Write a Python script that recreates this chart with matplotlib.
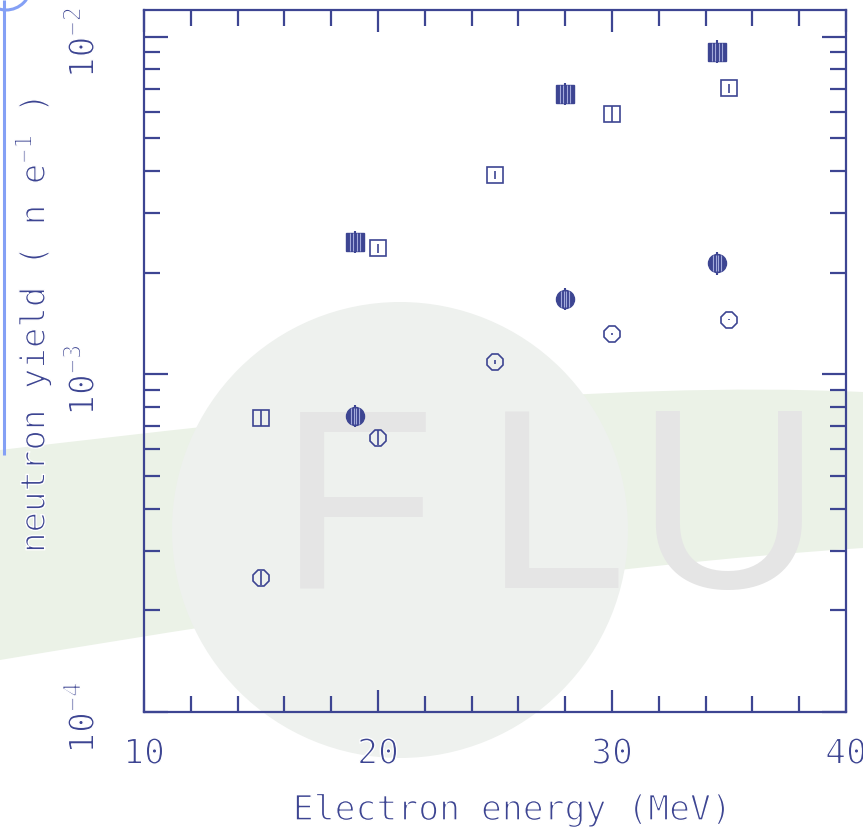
import numpy as np
import matplotlib
matplotlib.use("Agg")
import matplotlib.pyplot as plt
import matplotlib.patheffects as pe
import matplotlib.transforms as mtransforms
from matplotlib.path import Path
from matplotlib.patches import Circle, PathPatch, Arc
from matplotlib.ticker import FixedLocator, NullFormatter, FuncFormatter

# ---------------- data ----------------
x_open = [15, 20, 25, 30, 35]
sq_open = [7.43e-4, 2.36e-3, 3.89e-3, 5.89e-3, 7.03e-3]
sq_open_err = [0.055, 0.03, 0.025, 0.055, 0.03]
circ_open = [2.49e-4, 6.49e-4, 1.087e-3, 1.315e-3, 1.45e-3]
circ_open_err = [0.05, 0.05, 0.015, 0.004, 0.004]

x_fill = [19, 28, 34.5]
sq_fill = [2.464e-3, 6.76e-3, 9.03e-3]
sq_fill_err = [0.08, 0.08, 0.08]
circ_fill = [7.52e-4, 1.67e-3, 2.13e-3]
circ_fill_err = [0.08, 0.08, 0.08]

x_ticks = [10, 20, 30, 40]
y_ticks = [1e-4, 1e-3, 1e-2]

NAVY = "#3d4592"
HATCH = "#a3aadb"
W, H = 863, 827

plt.rcParams['font.family'] = ['DejaVu Sans Mono', 'DejaVu Sans']
plt.rcParams['mathtext.default'] = 'regular'

THIN = [pe.Stroke(linewidth=1.0, foreground='white')]

fig = plt.figure(figsize=(W / 100, H / 100), dpi=100)
fig.patch.set_facecolor('white')

def fx(px):
    return px / W

def fy(py):
    return 1 - py / H

# ---------------- watermark (figure background) ----------------
bg = fig.add_axes([0, 0, 1, 1], zorder=0)
bg.set_xlim(0, W)
bg.set_ylim(H, 0)
bg.axis('off')
# green swoosh band
verts = [(0, 450), (300, 415), (600, 380), (863, 392),
         (863, 548), (600, 565), (300, 610), (0, 660), (0, 450)]
codes = [Path.MOVETO, Path.CURVE4, Path.CURVE4, Path.CURVE4,
         Path.LINETO, Path.CURVE4, Path.CURVE4, Path.CURVE4, Path.CLOSEPOLY]
bg.add_patch(PathPatch(Path(verts, codes), facecolor="#ebf2e7", edgecolor='none'))
# circle
bg.add_patch(Circle((400, 530), 228, facecolor="#eef1ee", edgecolor='none'))
# FLU letters
for ch, cx in zip("FLU", [357, 555, 728]):
    bg.text(cx, 588, ch, fontsize=185, color="#e5e5e5", ha='center', va='baseline',
            family='Liberation Sans')
# blue decoration top-left
bg.plot([4, 4], [0, 455], color="#84a0f5", lw=2.2, solid_capstyle='butt')
bg.add_patch(Arc((6, -15), 50, 50, theta1=0, theta2=180, color="#84a0f5", lw=2.2))

# ---------------- main axes ----------------
ax = fig.add_axes([fx(144), fy(711.7), (846 - 144) / W, (711.7 - 10) / H], zorder=2)
ax.patch.set_alpha(0)
ax.set_yscale('log')
ax.set_xlim(10, 40)
ax.set_ylim(1e-4, 1.2e-2)

for s in ax.spines.values():
    s.set_color(NAVY)
    s.set_linewidth(1.6)

ax.xaxis.set_major_locator(FixedLocator(x_ticks))
ax.xaxis.set_minor_locator(FixedLocator(np.arange(10, 41, 2)))
ax.yaxis.set_major_locator(FixedLocator(y_ticks))
minor_y = [m * 10.0 ** e for e in (-4, -3, -2) for m in range(2, 10)]
ax.yaxis.set_minor_locator(FixedLocator(minor_y))
ax.yaxis.set_minor_formatter(NullFormatter())
ax.yaxis.set_major_formatter(FuncFormatter(
    lambda v, p: r'$10^{%d}$' % int(round(np.log10(v)))))

ax.tick_params(which='both', direction='in', top=True, right=True,
               color=NAVY, labelcolor=NAVY, width=1.6)
ax.tick_params(axis='x', which='major', length=16, labelsize=25, pad=18)
ax.tick_params(axis='x', which='minor', length=11.5)
ax.tick_params(axis='y', which='major', length=17, labelsize=25, pad=31)
ax.tick_params(axis='y', which='minor', length=11.5)
shift = mtransforms.ScaledTranslation(0, -6 / 100, fig.dpi_scale_trans)
for lab in ax.get_yticklabels():
    lab.set_rotation(90)
    lab.set_va('center')
    lab.set_transform(lab.get_transform() + shift)
for lab in ax.get_xticklabels() + ax.get_yticklabels():
    lab.set_path_effects(THIN)

# hatch marker: vertical lines
hatch_path = Path([(-0.24, -0.42), (-0.24, 0.42), (-0.08, -0.42), (-0.08, 0.42),
                   (0.08, -0.42), (0.08, 0.42), (0.24, -0.42), (0.24, 0.42)],
                  [Path.MOVETO, Path.LINETO] * 4)

def rel_err(vals, errs):
    v = np.array(vals)
    e = np.array(errs)
    return [v - v / (1 + e), v * e]

# open squares
ax.errorbar(x_open, sq_open, yerr=rel_err(sq_open, sq_open_err), fmt='none',
            ecolor=NAVY, elinewidth=1.2, capsize=0, zorder=3)
ax.plot(x_open, sq_open, 's', ms=11.5, mfc='none', mec=NAVY, mew=1.2, zorder=4)
# open circles (octagons)
ax.errorbar(x_open, circ_open, yerr=rel_err(circ_open, circ_open_err), fmt='none',
            ecolor=NAVY, elinewidth=1.2, capsize=0, zorder=3)
ax.plot(x_open, circ_open, '8', ms=12.5, mfc='none', mec=NAVY, mew=1.2, zorder=4)
# filled squares
ax.errorbar(x_fill, sq_fill, yerr=rel_err(sq_fill, sq_fill_err), fmt='none',
            ecolor=NAVY, elinewidth=1.5, capsize=0, zorder=3)
ax.plot(x_fill, sq_fill, 's', ms=12.5, mfc=NAVY, mec=NAVY, mew=1.0, zorder=4)
ax.plot(x_fill, sq_fill, marker=hatch_path, ls='none', ms=12.5, mec=HATCH, mew=0.8, zorder=5)
# filled circles
ax.errorbar(x_fill, circ_fill, yerr=rel_err(circ_fill, circ_fill_err), fmt='none',
            ecolor=NAVY, elinewidth=1.5, capsize=0, zorder=3)
ax.plot(x_fill, circ_fill, 'o', ms=13, mfc=NAVY, mec=NAVY, mew=1.0, zorder=4)
ax.plot(x_fill, circ_fill, marker=hatch_path, ls='none', ms=11, mec=HATCH, mew=0.8, zorder=5)

# axis labels
fig.text(fx(512), fy(820), 'Electron energy (MeV)', fontsize=25, color=NAVY,
         ha='center', va='baseline', path_effects=THIN)
fig.text(fx(33), fy(553), r'neutron yield ( n e$^{-1}$ )', fontsize=24.5, color=NAVY,
         rotation=90, ha='center', va='bottom', path_effects=THIN)

fig.savefig('out.png', dpi=100)
